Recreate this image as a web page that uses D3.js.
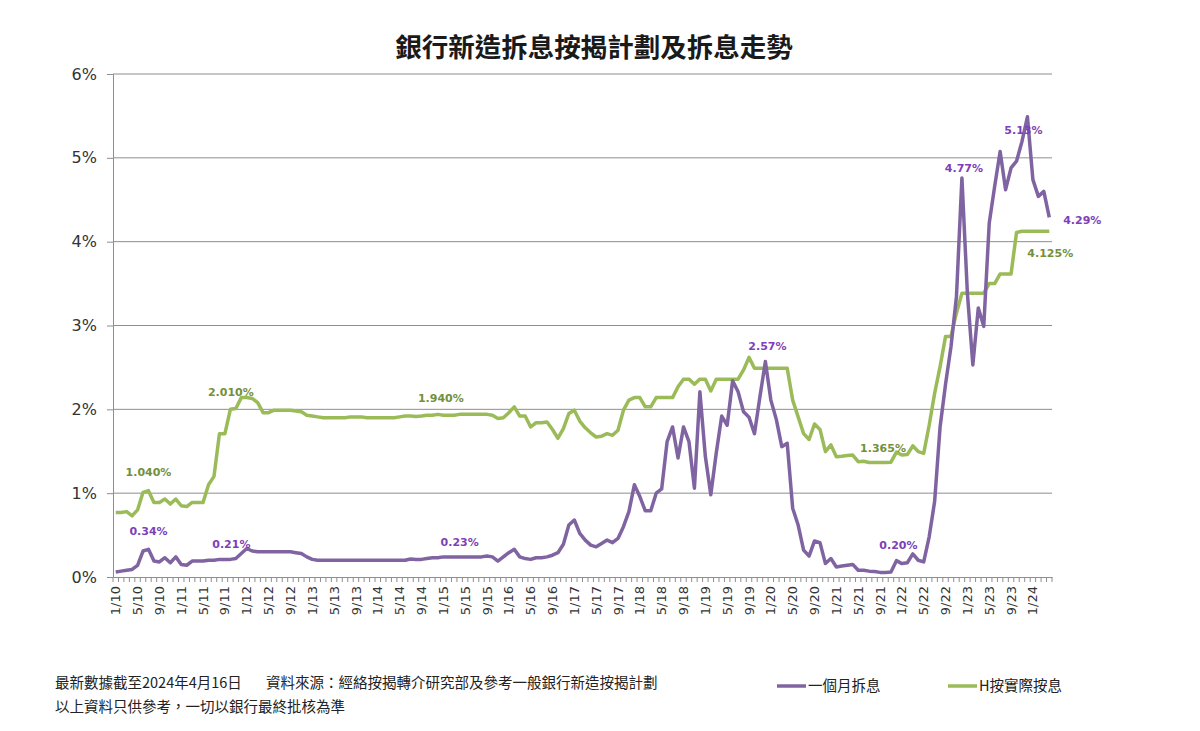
<!DOCTYPE html>
<html>
<head>
<meta charset="utf-8">
<script src="https://cdn.jsdelivr.net/npm/d3@7"></script>
<style>
  body { margin: 0; background: #fff; }
  svg { display: block; }
</style>
</head>
<body>
<div id="chart"></div>
<script>
// monthly data, 1/2010 - 4/2024 (in %)
var hibor1m = [
  0.06,0.07,0.08,0.09,0.14,0.31,0.33,0.19,0.18,0.23,0.17,0.24,
  0.15,0.14,0.19,0.19,0.19,0.20,0.20,0.21,0.21,0.21,0.22,0.28,
  0.34,0.31,0.30,0.30,0.30,0.30,0.30,0.30,0.30,0.29,0.28,0.24,
  0.21,0.20,0.20,0.20,0.20,0.20,0.20,0.20,0.20,0.20,0.20,0.20,
  0.20,0.20,0.20,0.20,0.20,0.20,0.215,0.21,0.21,0.22,0.23,0.23,
  0.24,0.24,0.24,0.24,0.24,0.24,0.24,0.24,0.25,0.24,0.19,0.24,
  0.29,0.33,0.24,0.22,0.21,0.23,0.23,0.24,0.26,0.29,0.39,0.62,
  0.68,0.52,0.44,0.38,0.36,0.40,0.44,0.41,0.46,0.60,0.78,1.10,
  0.96,0.79,0.79,1.00,1.05,1.615,1.79,1.42,1.79,1.615,1.06,2.21,
  1.44,0.98,1.48,1.92,1.81,2.34,2.21,1.97,1.905,1.71,2.15,2.57,
  2.11,1.88,1.555,1.595,0.82,0.62,0.32,0.25,0.43,0.41,0.16,0.22,
  0.12,0.13,0.14,0.15,0.08,0.08,0.07,0.065,0.055,0.055,0.06,0.195,
  0.16,0.17,0.275,0.20,0.18,0.48,0.90,1.79,2.30,2.75,3.345,4.76,
  3.385,2.53,3.21,2.99,4.22,4.66,5.075,4.62,4.88,4.96,5.195,5.49,
  4.74,4.54,4.60,4.29
];

var hPlanRate = [
  0.77,0.77,0.78,0.73,0.80,1.01,1.03,0.89,0.89,0.93,0.87,0.93,
  0.85,0.84,0.89,0.89,0.89,1.10,1.20,1.71,1.71,2.00,2.01,2.14,
  2.14,2.13,2.08,1.96,1.96,1.99,1.99,1.99,1.99,1.98,1.97,1.93,
  1.92,1.91,1.90,1.90,1.90,1.90,1.90,1.91,1.91,1.91,1.90,1.90,
  1.90,1.90,1.90,1.90,1.91,1.92,1.92,1.915,1.92,1.93,1.93,1.94,
  1.93,1.93,1.93,1.94,1.94,1.94,1.94,1.94,1.94,1.93,1.89,1.90,
  1.96,2.03,1.92,1.92,1.79,1.84,1.84,1.85,1.76,1.655,1.77,1.95,
  1.99,1.86,1.78,1.72,1.67,1.68,1.71,1.69,1.75,1.99,2.11,2.14,
  2.14,2.03,2.03,2.14,2.14,2.14,2.14,2.27,2.36,2.36,2.30,2.36,
  2.36,2.22,2.36,2.36,2.36,2.36,2.36,2.47,2.62,2.49,2.49,2.49,
  2.49,2.49,2.49,2.49,2.11,1.91,1.71,1.64,1.825,1.76,1.495,1.575,
  1.435,1.44,1.45,1.455,1.375,1.38,1.365,1.365,1.365,1.365,1.37,1.49,
  1.455,1.46,1.565,1.495,1.475,1.81,2.19,2.51,2.87,2.87,3.15,3.385,
  3.385,3.385,3.385,3.385,3.50,3.50,3.615,3.615,3.615,4.11,4.125,4.125,
  4.125,4.125,4.125,4.125
];

// category per month, M/YY
var categories = [];
for (var k = 0; k < hibor1m.length; k++) {
  var m = (k % 12) + 1;
  var yy = 10 + Math.floor(k / 12);
  categories.push(m + "/" + yy);
}

var tickLabels = ["1/10","5/10","9/10","1/11","5/11","9/11","1/12","5/12","9/12",
  "1/13","5/13","9/13","1/14","5/14","9/14","1/15","5/15","9/15","1/16","5/16","9/16",
  "1/17","5/17","9/17","1/18","5/18","9/18","1/19","5/19","9/19","1/20","5/20","9/20",
  "1/21","5/21","9/21","1/22","5/22","9/22","1/23","5/23","9/23","1/24"];

var yTicks = [0, 1, 2, 3, 4, 5, 6];

// point labels: series, month index, text
var pointLabels = [
  { s: "h", i: 6, t: "1.040%" },
  { s: "p", i: 6, t: "0.34%" },
  { s: "h", i: 22, t: "2.010%" },
  { s: "p", i: 21, t: "0.21%" },
  { s: "h", i: 59, t: "1.940%" },
  { s: "p", i: 63, t: "0.23%" },
  { s: "p", i: 119, t: "2.57%" },
  { s: "h", i: 140, t: "1.365%" },
  { s: "p", i: 143, t: "0.20%" },
  { s: "p", i: 155, t: "4.77%" },
  { s: "p", i: 167, t: "5.13%" },
  { s: "p", i: 171, t: "4.29%" },
  { s: "h", i: 171, t: "4.125%" }
];
// offsets for those labels, same order
var labelOffsets = [[0,-15],[0,-14],[-5,-12],[1,-11],[3,-12],[0,-11],[2,-12],[3,-11],[2,-12],[2,-6],[-4,17],[33,7],[1,26]];

var purple = "#8064A2", green = "#9BBB59";
var purpleText = "#7E3FB8", greenText = "#74903A";

var svg = d3.select("#chart").append("svg")
  .attr("width", 1200)
  .attr("height", 731);

var plotLeft = 113, plotRight = 1052, plotTop = 74, plotBottom = 577;

var x = d3.scaleBand().domain(categories).range([plotLeft, plotRight]).padding(0);
var y = d3.scaleLinear().domain([0, 6]).range([plotBottom, plotTop]);
var cx = function (i) { return x(categories[i]) + x.bandwidth() / 2; };

// title
svg.append("text")
  .attr("x", 594)
  .attr("y", 57)
  .attr("text-anchor", "middle")
  .style("font-family", "'Noto Sans CJK TC'")
  .style("font-weight", "700")
  .style("font-size", "26.5px")
  .style("fill", "#1a1a1a")
  .text("銀行新造拆息按揭計劃及拆息走勢");

// gridlines
svg.append("g")
  .selectAll("line")
  .data(yTicks.filter(function (d) { return d > 0; }))
  .enter()
  .append("line")
  .attr("x1", plotLeft)
  .attr("x2", plotRight)
  .attr("y1", function (d) { return y(d); })
  .attr("y2", function (d) { return y(d); })
  .attr("stroke", "#8e8e8e")
  .attr("stroke-width", 1);

// y axis
var yaxis = d3.axisLeft(y).tickValues(yTicks).tickSize(6).tickFormat(function (d) { return d + "%"; });
var gy = svg.append("g")
  .attr("transform", "translate(" + plotLeft + ",0)")
  .call(yaxis);
gy.select(".domain").attr("stroke", "#8e8e8e");
gy.selectAll(".tick line").attr("stroke", "#8e8e8e");
gy.selectAll("text")
  .attr("x", -16)
  .style("font-family", "'DejaVu Sans'")
  .style("font-size", "16px")
  .style("fill", "#333");

// x axis
var xaxis = d3.axisBottom(x)
  .tickValues(categories.filter(function (d, i) { return i % 4 === 0; }))
  .tickSize(0)
  .tickFormat(function (d, i) { return tickLabels[i]; });
var gx = svg.append("g")
  .attr("transform", "translate(0," + plotBottom + ")")
  .call(xaxis);
gx.select(".domain").attr("stroke", "#8e8e8e");
gx.selectAll("text")
  .attr("transform", "rotate(-90)")
  .attr("x", -9)
  .attr("y", 0)
  .attr("dy", "0.35em")
  .style("text-anchor", "end")
  .style("font-family", "'DejaVu Sans'")
  .style("font-size", "13px")
  .style("fill", "#333");

// minor ticks at every month boundary
svg.append("g")
  .selectAll("line")
  .data(categories.concat(["end"]))
  .enter()
  .append("line")
  .attr("x1", function (d, i) { return plotLeft + i * x.bandwidth(); })
  .attr("x2", function (d, i) { return plotLeft + i * x.bandwidth(); })
  .attr("y1", plotBottom)
  .attr("y2", plotBottom + 5)
  .attr("stroke", "#8e8e8e")
  .attr("stroke-width", 1);

// lines
var line = function (vals) {
  return d3.line()
    .x(function (d, i) { return cx(i); })
    .y(function (d) { return y(d); })(vals);
};

svg.append("path")
  .attr("d", line(hPlanRate))
  .attr("fill", "none")
  .attr("stroke", green)
  .attr("stroke-width", 3.5)
  .attr("stroke-linejoin", "round");

svg.append("path")
  .attr("d", line(hibor1m))
  .attr("fill", "none")
  .attr("stroke", purple)
  .attr("stroke-width", 3.5)
  .attr("stroke-linejoin", "round");

// point labels
svg.append("g")
  .selectAll("text")
  .data(pointLabels)
  .enter()
  .append("text")
  .attr("x", function (d, k) { return cx(d.i) + labelOffsets[k][0]; })
  .attr("y", function (d, k) {
    var v = d.s === "p" ? hibor1m[d.i] : hPlanRate[d.i];
    return y(v) + labelOffsets[k][1];
  })
  .attr("text-anchor", "middle")
  .style("font-family", "'DejaVu Sans'")
  .style("font-weight", "700")
  .style("font-size", "11px")
  .style("fill", function (d) { return d.s === "p" ? purpleText : greenText; })
  .text(function (d) { return d.t; });

// footer notes
var note = svg.append("g")
  .style("font-family", "'Noto Sans CJK TC'")
  .style("font-size", "14.5px")
  .style("fill", "#222");
note.append("text").attr("x", 55).attr("y", 688).text("最新數據截至2024年4月16日");
note.append("text").attr("x", 266).attr("y", 688).text("資料來源：經絡按揭轉介研究部及參考一般銀行新造按揭計劃");
note.append("text").attr("x", 55).attr("y", 712).text("以上資料只供參考，一切以銀行最終批核為準");

// legend
var legendItems = [
  { name: "一個月拆息", color: purple, x: 777 },
  { name: "H按實際按息", color: green, x: 948 }
];
var lg = svg.append("g")
  .selectAll("g")
  .data(legendItems)
  .enter()
  .append("g")
  .attr("transform", function (d) { return "translate(" + d.x + ",686)"; });
lg.append("line")
  .attr("x1", 0)
  .attr("x2", 29)
  .attr("stroke", function (d) { return d.color; })
  .attr("stroke-width", 3.5);
lg.append("text")
  .attr("x", 31)
  .attr("y", 5)
  .style("font-family", "'Noto Sans CJK TC'")
  .style("font-size", "14.5px")
  .style("fill", "#222")
  .text(function (d) { return d.name; });
</script>
</body>
</html>
